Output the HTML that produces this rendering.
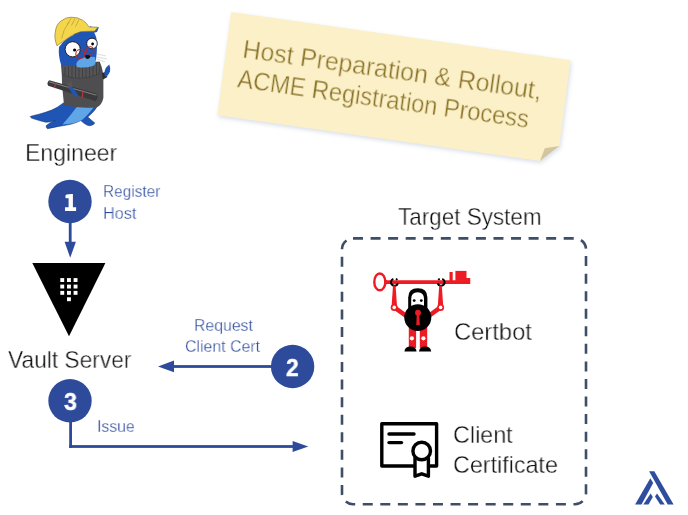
<!DOCTYPE html>
<html><head><meta charset="utf-8">
<style>
html,body{margin:0;padding:0;background:#fff;}
body{width:688px;height:515px;position:relative;overflow:hidden;font-family:"Liberation Sans",sans-serif;}
.t{position:absolute;white-space:nowrap;line-height:1;color:#111;transform-origin:0 0;will-change:transform;-webkit-text-stroke:0.4px #fff;}
.b{color:#2e4b9e;-webkit-text-stroke:0.3px #fff;}
.n{color:#fff;font-weight:bold;font-size:24.5px;}
svg{position:absolute;left:0;top:0;}
</style></head><body>
<svg width="688" height="515" viewBox="0 0 688 515">
  <!-- sticky note -->
  <defs><filter id="blur" x="-10%" y="-30%" width="120%" height="160%"><feGaussianBlur stdDeviation="2"/></filter></defs>
  <path d="M231.2,12 L570.6,60.2 L559.3,145.9 L539.9,160.9 L217.4,115.2 Z" fill="#b9c2d4" opacity="0.55" filter="url(#blur)" transform="translate(1,2)"/>
  <path d="M231.2,12 L570.6,60.2 L559.3,145.9 L539.9,160.9 L217.4,115.2 Z" fill="#fcf0c9"/>
  <path d="M559.3,145.9 L544.8,148.3 L539.9,160.9 Z" fill="#d2c59f"/>
  <!-- circles -->
  <circle cx="70" cy="201.5" r="21.7" fill="#2e4b9b"/>
  <circle cx="292.6" cy="366.5" r="21.7" fill="#2e4b9b"/>
  <circle cx="70" cy="400.8" r="21.7" fill="#2e4b9b"/>
  <!-- arrow 1 -->
  <rect x="68.8" y="222" width="2.8" height="22" fill="#2e4b9b"/>
  <path d="M64.6,241.7 H75.9 L70.2,257.8 Z" fill="#2e4b9b"/>
  <!-- arrow 2 -->
  <rect x="172" y="365.1" width="100" height="2.8" fill="#2e4b9b"/>
  <path d="M174,360.5 V372.2 L158,366.4 Z" fill="#2e4b9b"/>
  <!-- arrow 3 -->
  <rect x="69.2" y="421" width="2.8" height="26.9" fill="#2e4b9b"/>
  <rect x="69.2" y="445.1" width="226" height="2.8" fill="#2e4b9b"/>
  <path d="M292.6,441 V452 L308.3,446.5 Z" fill="#2e4b9b"/>
  <!-- vault -->
  <path d="M32.3,263 H105.4 L69,336.3 Z" fill="#000"/>
  <g fill="#fff">
    <rect x="60.3" y="278.1" width="3.9" height="3.9"/><rect x="67" y="278.1" width="3.9" height="3.9"/><rect x="73.6" y="278.1" width="3.9" height="3.9"/>
    <rect x="60.3" y="284.6" width="3.9" height="3.9"/><rect x="67" y="284.6" width="3.9" height="3.9"/><rect x="73.6" y="284.6" width="3.9" height="3.9"/>
    <rect x="60.3" y="290.9" width="3.9" height="3.9"/><rect x="67" y="290.9" width="3.9" height="3.9"/><rect x="73.6" y="290.9" width="3.9" height="3.9"/>
    <rect x="67" y="297.3" width="3.9" height="3.9"/>
  </g>
  <!-- dashed box -->
  <path d="M353,238.4 H575 A11,11 0 0 1 586,249.4 V493.2 A11,11 0 0 1 575,504.2 H353 A11,11 0 0 1 342,493.2 V249.4 A11,11 0 0 1 353,238.4 Z" fill="none" stroke="#3e4e66" stroke-width="2.6" stroke-dasharray="10 7.56"/>
  <!-- certbot -->
  <g>
            <ellipse cx="379.8" cy="281.9" rx="5.5" ry="8.4" fill="none" stroke="#ed1c24" stroke-width="2.4"/>
    <path d="M384.5,279 L387,280.3 H470.2 V283.9 H387 L384.5,285.2 Z" fill="#ed1c24"/>
    <rect x="449.5" y="272" width="3.2" height="9" fill="#ed1c24"/>
    <rect x="455.4" y="270.9" width="11.1" height="10" fill="#ed1c24"/>
    <rect x="466" y="278" width="4.2" height="3" fill="#ed1c24"/>
    <!-- hands -->
    <g fill="none" stroke="#000" stroke-width="1.9">
      <path d="M393.37,278.82 A3.6,3.6 0 1 0 397.98,283.43"/><path d="M395.83,278.82 A3.6,3.6 0 0 1 397.36,279.89"/>
      <path d="M442.23,278.82 A3.6,3.6 0 1 1 437.62,283.43"/><path d="M439.77,278.82 A3.6,3.6 0 0 0 438.24,279.89"/>
    </g>
    <!-- arms -->
    <path d="M393,285.5 H395.6 L397,306 H391.6 Z" fill="#ed1c24"/>
    <path d="M441.8,285.5 H439.2 L437.8,306 H443.2 Z" fill="#ed1c24"/>
    <path d="M394.3,307.4 L407,316.5" stroke="#ed1c24" stroke-width="4.6" stroke-linecap="round"/>
    <path d="M440.5,307.4 L428,316.5" stroke="#ed1c24" stroke-width="4.6" stroke-linecap="round"/>
    <circle cx="394.2" cy="307.4" r="3.5" fill="#ed1c24"/><circle cx="394.2" cy="307.4" r="1.8" fill="#fff"/>
    <circle cx="440.6" cy="307.4" r="3.5" fill="#ed1c24"/><circle cx="440.6" cy="307.4" r="1.8" fill="#fff"/>
    <!-- legs -->
    <rect x="408.8" y="326" width="7.3" height="22" fill="#ed1c24"/>
    <rect x="419.8" y="326" width="7.4" height="22" fill="#ed1c24"/>
    <circle cx="411.9" cy="338.3" r="3" fill="#ed1c24"/><circle cx="423.4" cy="338.3" r="3" fill="#ed1c24"/>
    <circle cx="411.9" cy="338.3" r="2.1" fill="#fff"/><circle cx="423.4" cy="338.3" r="2.1" fill="#fff"/>
    <path d="M404.4,351.6 Q405,346.5 410.5,346.5 Q416,346.5 416.6,351.6 Z" fill="#000"/>
    <path d="M419,351.6 Q419.6,346.5 425.1,346.5 Q430.6,346.5 431.2,351.6 Z" fill="#000"/>
    <!-- head -->
    <path d="M408.2,310 V297.5 Q408.2,288.2 417.8,288.2 Q427.4,288.2 427.4,297.5 V310 Z" fill="#000"/>
    <path d="M411.2,306 V299 Q411.2,292.3 417.6,292.3 Q424,292.3 424,299 V306 Z" fill="#fff"/>
    <circle cx="414.2" cy="300.6" r="1.4" fill="#000"/><circle cx="421.3" cy="300.6" r="1.4" fill="#000"/>
    <ellipse cx="417.8" cy="317.6" rx="13.5" ry="13.4" fill="#000"/>
    <circle cx="418" cy="312.7" r="2.9" fill="#ed1c24"/>
    <path d="M416.8,313 H419.2 L419.8,325.1 H416.3 Z" fill="#ed1c24"/>
  </g>
  <!-- certificate icon -->
  <g fill="none" stroke="#000" stroke-width="3.4" stroke-linecap="round" stroke-linejoin="round">
    <path d="M413.5,466 H381.8 V423.8 H436.6 V466 H430.5"/>
    <path d="M389,434 H414"/>
    <path d="M389,442.6 H401.5"/>
    <circle cx="421.7" cy="451" r="8.8"/>
    <path d="M415,458 V476.2 L421.7,473.8 L428.4,476.2 V458"/>
  </g>
  <!-- logo -->
  <g fill="#2e4d9e">
    <path d="M649.1,471.3 H654.3 L673.6,504.5 H667.7 Z"/>
    <path d="M650.3,478.2 L653.2,483 L641.5,504.5 H635.1 Z"/>
    <path d="M650.6,493.4 L652.8,497 L648.5,504.5 H643.3 Z"/>
    <path d="M657,493.4 L664.8,504.5 H660.2 L655,496.5 Z"/>
  </g>
  <!-- seal mascot (approx) -->
  <g id="seal">
    <!-- tail -->
    <path d="M63.4,103 Q57,108 51.7,110.1 Q44,113 39,114.2 Q33,115.5 30.2,116.5 Q31,118 32,118.3 Q40,121 46,122.3 Q51,122 55.2,120.6 Q49,123 46,125.8 Q46.5,128.5 47.5,128.7 Q53,127.5 58.7,126.4 Q65,125.5 71.5,124.1 Q77,122.5 80.8,120.6 L84.3,123.5 Q88,126 90.1,125.8 Q94,125 94.8,122.9 Q91,120 87.8,117 Q95,111 97.1,106.6 L99,101 Z" fill="#1f55b5" stroke="#0f2c66" stroke-width="0.5"/>
    <path d="M77.5,106 L94,106.5 Q90,113 82,120 Q74,124 62.5,124.5 Q70,116 77.5,106 Z" fill="#5ea6e8"/>
    <!-- sweater -->
    <path d="M61.5,65.2 Q80,62 99.8,62 Q103.4,70 103.4,79 V97.8 Q102,105 97,107.2 Q80,109 64,105 Q61.5,86 61.5,65.2 Z" fill="#4e4e50"/>
    <path d="M61.5,65.2 Q80,62 99.5,61.9 Q100.5,68 98.3,74.2 Q88,79 78,78.4 Q68,77.5 62.5,74.2 Z" fill="#555557" stroke="#3a3a3c" stroke-width="0.6"/>
    <g stroke="#38383a" stroke-width="0.7">
      <path d="M65,67 V75"/><path d="M68.5,66 V76.5"/><path d="M72,65.5 V77.5"/><path d="M75.5,65.5 V78"/><path d="M79,65 V78.3"/><path d="M82.5,65 V78"/><path d="M86,64.5 V77.8"/><path d="M89.5,64 V77"/><path d="M93,63.5 V76"/><path d="M96.5,63 V75"/>
    </g>
    <!-- head -->
    <path d="M59,47 Q58,56 61.5,66 Q72,66 80,66 Q94,65 96,60 Q97,52 97,44 Q97,36 93,31 Q80,30 68,38 Q62,42 59,47 Z" fill="#1f55b5"/>
    <path d="M74,33 Q80,28 87,29 L91,26 L93,30 Q96,28 99,27 L97,32 Q90,34 74,36 Z" fill="#1f55b5"/>
    <path d="M79,60 Q84,56 95,57 Q97,64 93,66 Q84,68.5 77,67 Q75,63 79,60 Z" fill="#5ea6e8"/>
    <!-- helmet -->
    <path d="M57,45.8 Q54,38 55.2,33 Q56,24 61,21 Q66,17 71,17.2 Q78,17 82.6,20.2 Q87,23 89,27 L97.8,27.1 Q96.5,30 94.3,31.2 Q87,31 80.3,31.8 Q73,34 68.6,37.6 Q62,42 57,45.8 Z" fill="#f4d64c" stroke="#7a6a2a" stroke-width="0.6"/>
    <path d="M61.6,38.8 Q63,30 68.6,22.5 M67.5,24.5 L71,18.3 M71.5,25.5 L75,18.6 M75.5,26.5 L79,19.5" stroke="#a8922e" stroke-width="0.6" fill="none"/>
    <!-- eyes -->
    <circle cx="72.7" cy="49.3" r="7.6" fill="#fff" stroke="#1a1a1a" stroke-width="0.9"/>
    <circle cx="92" cy="43.5" r="5.3" fill="#fff" stroke="#1a1a1a" stroke-width="0.9"/>
    <circle cx="74.6" cy="50" r="1.6" fill="#000"/><circle cx="92.6" cy="44" r="1.4" fill="#000"/>
    <circle cx="80.3" cy="54" r="4.5" fill="none" stroke="#b8262b" stroke-width="1.1"/>
    <circle cx="90.2" cy="50.4" r="3.7" fill="none" stroke="#b8262b" stroke-width="1.1"/>
    <path d="M85,55.5 Q88,54.5 90.5,56 Q90,59 87,59 Q85,58 85,55.5 Z" fill="#111"/>
    <path d="M97,54 L106,56 M97,57 L107,59 M97,59 L105,62" stroke="#bbb" stroke-width="0.5"/>
    <!-- right arm -->
    <path d="M102,73 L103,79.5 L107.4,77 L105.5,72 Z" fill="#2a2a2a"/>
    <path d="M104.5,75.5 Q104,70 106.5,67 L109.3,64.5 Q110.8,68 110,71.5 Q108.5,75 106,77 Z" fill="#1f55b5"/>
    <!-- pipe -->
    <path d="M49.3,80.2 L96.5,93.4 Q98.9,97.5 95.6,101.2 L48.2,85.8 Q46.2,82.8 49.3,80.2 Z" fill="#3a3a3c"/>
    <path d="M49,81.8 L96.5,95.2" stroke="#8a8a8a" stroke-width="0.9"/>
    <path d="M55.6,82.4 L54.6,88.2" stroke="#c33" stroke-width="1.1"/>
    <path d="M83.2,90.4 L82.2,97.9" stroke="#c33" stroke-width="1.1"/>
    <!-- sleeve + hand -->
    <path d="M67.2,83 Q69,80.8 72,81.5 L72.6,89.5 L68,88.5 Z" fill="#555557"/>
    <path d="M69.1,88.4 Q71,86.8 73.5,88.5 L77.8,94.5 Q78.5,97.3 76,97 Q71.5,94 69.1,88.4 Z" fill="#1f55b5"/>
  </g><!-- end seal -->
  <path d="M65.5,195.6 Q65.7,194.9 66.6,194.6 L71.3,193.9 H72.9 V207.2 H76.1 V211 H65 V207.2 H68.6 V198.3 L66.3,198.2 Q65.4,198.1 65.4,197.3 Z" fill="#fff"/>
</svg>
<div class="t" style="left:24.5px;top:141px;font-size:24.5px;transform:scaleX(0.94)">Engineer</div>
<div class="t b" style="left:103px;top:182.5px;font-size:17px;transform:scaleX(0.905)">Register</div>
<div class="t b" style="left:103.3px;top:205.2px;font-size:17px;transform:scaleX(0.955)">Host</div>
<div class="t b" style="left:193.7px;top:316.5px;font-size:17px;transform:scaleX(0.93)">Request</div>
<div class="t b" style="left:184.5px;top:338px;font-size:17px;transform:scaleX(0.934)">Client Cert</div>
<div class="t b" style="left:96.6px;top:417.6px;font-size:17px;transform:scaleX(0.926)">Issue</div>
<div class="t" style="left:8.3px;top:348.1px;font-size:24.5px;transform:scaleX(0.928)">Vault Server</div>
<div class="t" style="left:398px;top:204.7px;font-size:24.5px;transform:scaleX(0.917)">Target System</div>
<div class="t" style="left:453.5px;top:320.3px;font-size:24.5px;transform:scaleX(0.969)">Certbot</div>
<div class="t" style="left:453px;top:422.5px;font-size:24.5px;transform:scaleX(0.953)">Client</div>
<div class="t" style="left:453px;top:452.7px;font-size:24.5px;transform:scaleX(0.951)">Certificate</div>
<div style="position:absolute;left:222.1px;top:35.6px;width:343px;height:104px;transform:rotate(8deg);transform-origin:171.5px 52px;">
<div class="t" style="left:16.7px;top:22px;font-size:24.9px;color:#836d1f;-webkit-text-stroke:0.45px #fcf0c9;transform:scaleX(1.0)">Host Preparation &amp; Rollout,</div>
<div class="t" style="left:16.3px;top:52.2px;font-size:24.9px;color:#836d1f;-webkit-text-stroke:0.45px #fcf0c9;transform:scaleX(0.953)">ACME Registration Process</div>
</div>
<div class="t n" style="left:286.2px;top:355.9px;transform:scaleX(0.93)">2</div>
<div class="t n" style="left:63.6px;top:389.9px;transform:scaleX(0.95)">3</div>
</body></html>
